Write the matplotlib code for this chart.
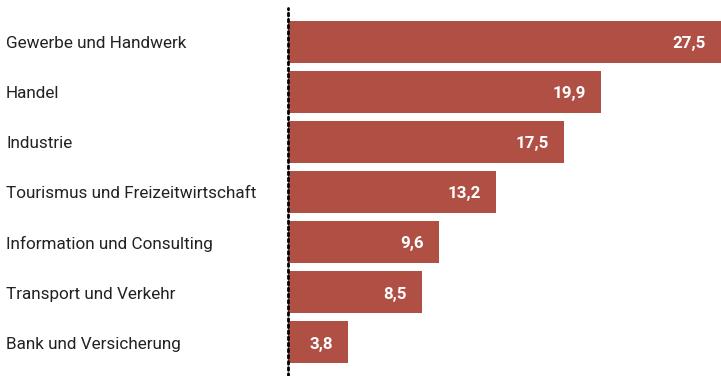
import matplotlib
matplotlib.use("Agg")
import matplotlib.pyplot as plt

categories = [
    "Gewerbe und Handwerk",
    "Handel",
    "Industrie",
    "Tourismus und Freizeitwirtschaft",
    "Information und Consulting",
    "Transport und Verkehr",
    "Bank und Versicherung",
]
values = [27.5, 19.9, 17.5, 13.2, 9.6, 8.5, 3.8]
value_labels = ["27,5", "19,9", "17,5", "13,2", "9,6", "8,5", "3,8"]

bar_color = "#B05045"
plt.rcParams["font.family"] = ["Roboto", "DejaVu Sans"]

W, H = 721, 376
fig = plt.figure(figsize=(W / 100, H / 100), dpi=100)
ax = fig.add_axes([288 / W, 0, 1 - 288 / W, 1 - 8 / H])

ypos = list(range(len(categories)))
ax.barh(ypos, values, height=0.84, color=bar_color, zorder=2)
ax.set_xlim(0, 27.5)
ax.set_ylim(len(categories) - 1 + 0.68, -0.68)

for y, v, lab in zip(ypos, values, value_labels):
    ax.annotate(lab, xy=(v, y), xytext=(-15, -2), textcoords="offset pixels",
                ha="right", va="center", color="white", fontsize=12.2,
                fontweight="bold")

for y, cat in zip(ypos, categories):
    ax.annotate(cat, xy=(0, y), xycoords=("figure fraction", "data"),
                xytext=(6, -2), textcoords="offset pixels",
                ha="left", va="center", color="#222222", fontsize=12.3,
                annotation_clip=False)

for s in ["top", "right", "bottom"]:
    ax.spines[s].set_visible(False)
ax.spines["left"].set_linestyle((0, (1, 1.2)))
ax.spines["left"].set_linewidth(2)
ax.spines["left"].set_capstyle("round")
ax.spines["left"].set_zorder(3)
ax.set_xticks([])
ax.set_yticks([])

fig.savefig("out.png", dpi=100)
